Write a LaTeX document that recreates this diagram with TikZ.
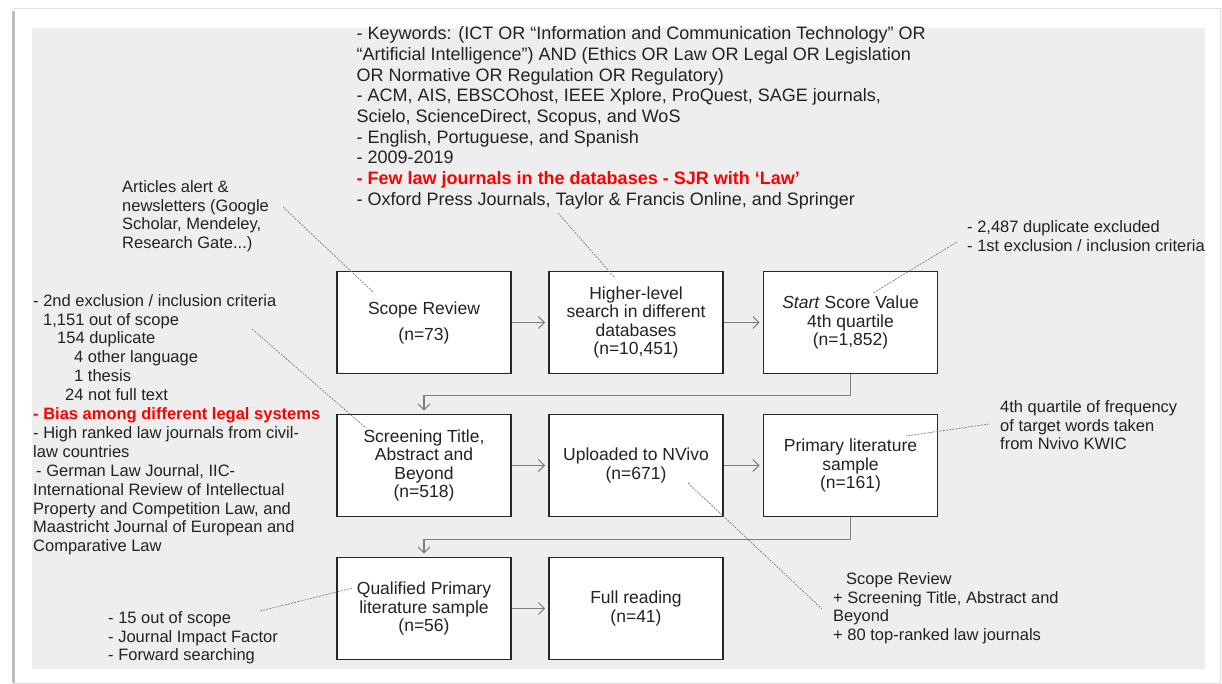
\documentclass[tikz,border=0pt]{standalone}
\usepackage{fontspec}
\setmainfont{Liberation Sans}
\usetikzlibrary{arrows.meta,calc}
\definecolor{panel}{HTML}{EEEEEE}
\definecolor{flow}{HTML}{7F7F7F}
\definecolor{note}{HTML}{7A7A7A}
\definecolor{txt}{HTML}{222222}
\definecolor{hot}{HTML}{FF0000}

\begin{document}
\begin{tikzpicture}[x=1pt,y=-1pt,
  stage/.style={draw=black!85,line width=1.6pt,fill=white,minimum width=174pt,
    minimum height=102pt,inner sep=0pt,align=center,text=txt,
    font=\fontsize{17.5}{18.5}\selectfont},
  flowline/.style={draw=flow,line width=1.1pt,shorten >=3pt,
    -{Straight Barb[length=6pt,width=12pt]}},
  noteline/.style={draw=note,line width=0.7pt,dash pattern=on 2pt off 1.2pt},
  memo/.style={anchor=north west,inner sep=0pt,align=left,text=txt},
  memobig/.style={memo,font=\fontsize{18}{20.7}\selectfont},
  memosmall/.style={memo,font=\fontsize{16.5}{18.9}\selectfont}
]
\useasboundingbox (0,0) rectangle (1222,684);
\fill[white] (0,0) rectangle (1222,684);

% page with a soft shadow, and the grey panel
\draw[line width=1pt,draw=black!12] (13,9) -- (1220,9) -- (1220,683) -- (13,683);
\draw[line width=3pt,draw=black!25] (13.5,11) -- (13.5,683);
\fill[panel] (32,28) rectangle (1205,669);

% process stages
\node[stage] (scope)   at (424,322.5)   {Scope Review\\[7.5pt](n=73)};
\node[stage] (higher)  at (636,322.5)   {Higher-level\\search in different\\databases\\(n=10,451)};
\node[stage] (start)   at (850.5,322.5) {\textit{Start} Score Value\\4th quartile\\(n=1,852)};
\node[stage] (screen)  at (424,465.5)   {Screening Title,\\Abstract and\\Beyond\\(n=518)};
\node[stage] (nvivo)   at (636,465.5)   {Uploaded to NVivo\\(n=671)};
\node[stage] (primary) at (850.5,465.5) {Primary literature\\sample\\(n=161)};
\node[stage] (qual)    at (424,608.5)   {Qualified Primary\\literature sample\\(n=56)};
\node[stage] (full)    at (636,608.5)   {Full reading\\(n=41)};

% flow between stages
\draw[flowline] (scope) -- (higher);
\draw[flowline] (higher) -- (start);
\draw[flowline] (start.south) -- ++(0,21) -| (screen.north);
\draw[flowline] (screen) -- (nvivo);
\draw[flowline] (nvivo) -- (primary);
\draw[flowline] (primary.south) -- ++(0,22) -| (qual.north);
\draw[flowline] (qual) -- (full);

% notes
\node[memobig] (search) at (356.5,26.5) {%
- Keywords: (ICT OR “Information and Communication Technology” OR\\
“Artificial Intelligence”) AND (Ethics OR Law OR Legal OR Legislation\\
OR Normative OR Regulation OR Regulatory)\\
- ACM, AIS, EBSCOhost, IEEE Xplore, ProQuest, SAGE journals,\\
Scielo, ScienceDirect, Scopus, and WoS\\
- English, Portuguese, and Spanish\\
- 2009-2019\\
{\color{hot}\bfseries - Few law journals in the databases - SJR with ‘Law’}\\
- Oxford Press Journals, Taylor \& Francis Online, and Springer};

\node[memosmall] (alerts) at (122,180) {%
Articles alert \&\\
newsletters (Google\\
Scholar, Mendeley,\\
Research Gate...)};

\node[memosmall] (second) at (33,294) {%
- 2nd exclusion / inclusion criteria\\
\hspace*{10pt}1,151 out of scope\\
\hspace*{24pt}154 duplicate\\
\hspace*{41pt}4 other language\\
\hspace*{41pt}1 thesis\\
\hspace*{32pt}24 not full text\\
{\color{hot}\bfseries - Bias among different legal systems}\\
- High ranked law journals from civil-\\
law countries\\
\hspace*{3pt}- German Law Journal, IIC-\\
International Review of Intellectual\\
Property and Competition Law, and\\
Maastricht Journal of European and\\
Comparative Law};

\node[memosmall] (first) at (967,220) {%
- 2,487 duplicate excluded\\
- 1st exclusion / inclusion criteria};

\node[memosmall] (quartile) at (1000,400) {%
4th quartile of frequency\\
of target words taken\\
from Nvivo KWIC};

\node[memosmall] (uploads) at (833,572) {%
\hspace*{13pt}Scope Review\\
+ Screening Title, Abstract and\\
Beyond\\
+ 80 top-ranked law journals};

\node[memosmall] (reading) at (108,611) {%
- 15 out of scope\\
- Journal Impact Factor\\
- Forward searching};

% leader lines from the notes to the stages
\coordinate (alertsEnd)   at (283,207);
\coordinate (searchEnd)   at (558,213);
\coordinate (firstEnd)    at (957,242);
\coordinate (quartileEnd) at (989,424);
\coordinate (secondEnd)   at (252,329);
\coordinate (uploadsEnd)  at (822,609);
\coordinate (readingEnd)  at (260,611);

\draw[noteline] (alertsEnd)   -- ($(scope)+(-51,-30.5)$);
\draw[noteline] (searchEnd)   -- ($(higher)+(-21,-44.5)$);
\draw[noteline] (firstEnd)    -- ($(start)+(22.5,-29.5)$);
\draw[noteline] (quartileEnd) -- ($(primary)+(55.5,-29.5)$);
\draw[noteline] (secondEnd)   -- ($(screen)+(-58,-37.5)$);
\draw[noteline] ($(nvivo)+(52,17.5)$) -- (uploadsEnd);
\draw[noteline] (readingEnd)  -- ($(qual)+(-71,-20.5)$);
\end{tikzpicture}
\end{document}
